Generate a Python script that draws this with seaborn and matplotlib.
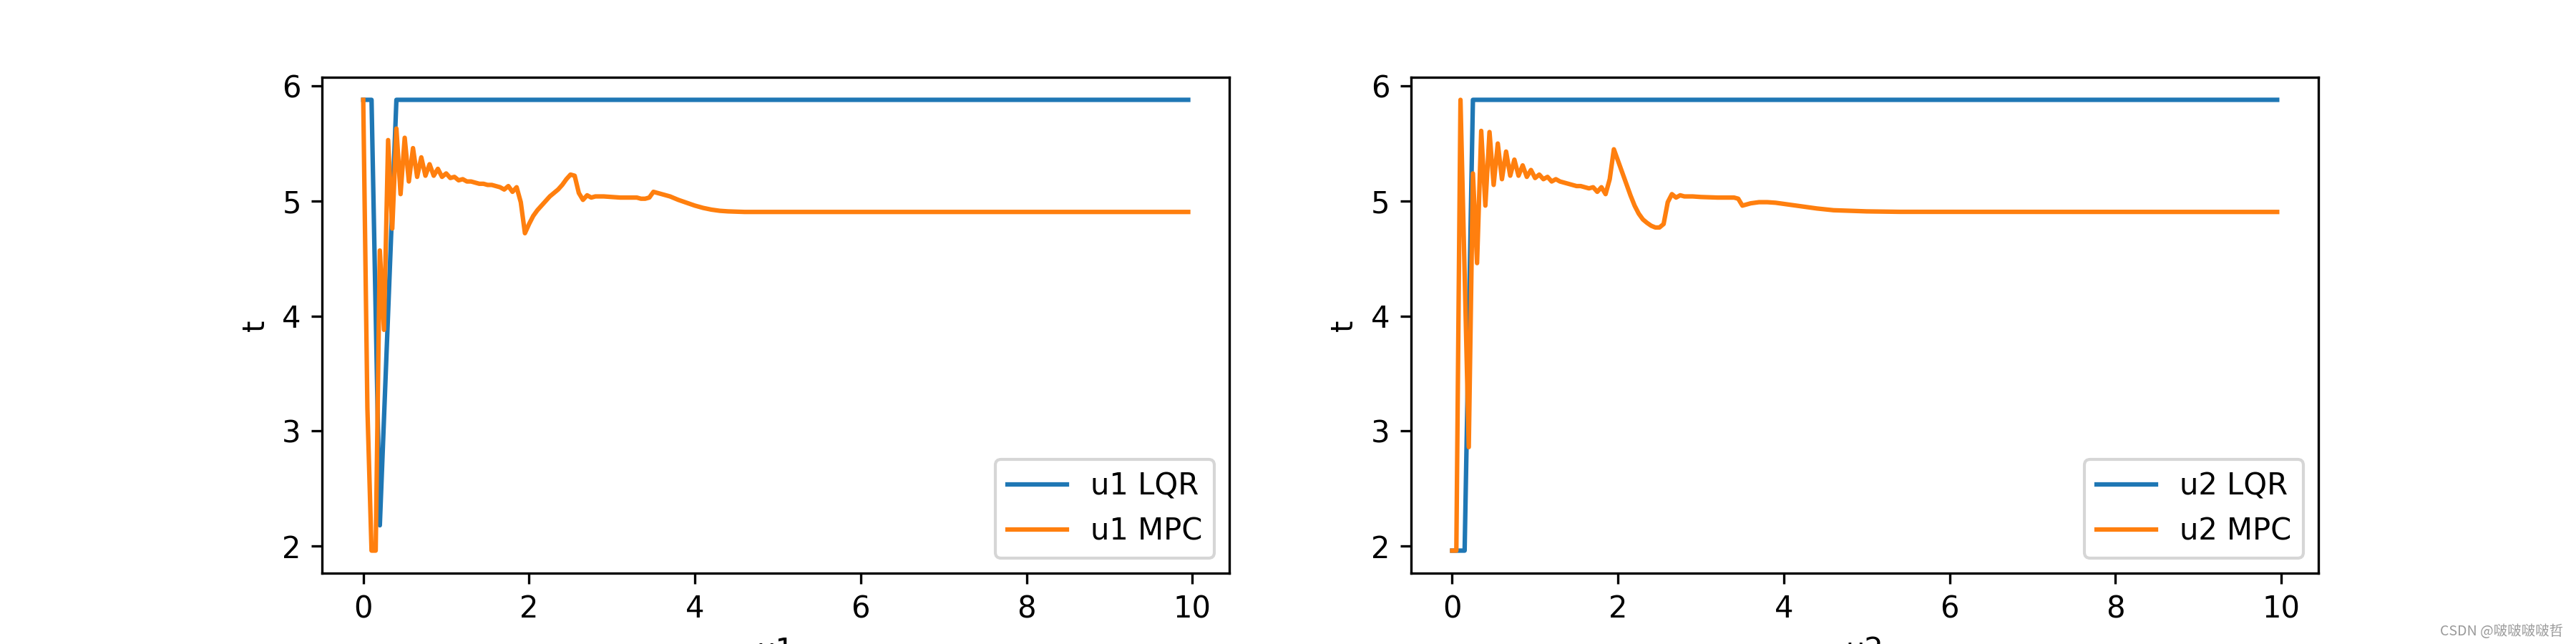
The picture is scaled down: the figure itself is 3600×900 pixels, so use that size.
import matplotlib
matplotlib.use("Agg")
import matplotlib.pyplot as plt
import seaborn as sns

# ---- data ----
u1_lqr_x = [0.0, 0.1, 0.2, 0.4, 9.95]
u1_lqr_y = [5.88, 5.88, 2.18, 5.88, 5.88]

u2_lqr_x = [0.0, 0.15, 0.25, 9.95]
u2_lqr_y = [1.96, 1.96, 5.88, 5.88]

u1_mpc_x = [0.0, 0.05, 0.1, 0.15, 0.2, 0.25, 0.3, 0.35, 0.4, 0.45, 0.5, 0.55,
            0.6, 0.65, 0.7, 0.75, 0.8, 0.85, 0.9, 0.95, 1.0, 1.05, 1.1, 1.15,
            1.2, 1.25, 1.3, 1.35, 1.4, 1.45, 1.5, 1.55, 1.6, 1.65, 1.7, 1.75,
            1.8, 1.85, 1.9, 1.95, 2.0, 2.05, 2.1, 2.15, 2.2, 2.25, 2.3, 2.35,
            2.4, 2.45, 2.5, 2.55, 2.6, 2.65, 2.7, 2.75, 2.8, 2.9, 3.0, 3.1,
            3.2, 3.3, 3.35, 3.4, 3.45, 3.5, 3.55, 3.6, 3.7, 3.8, 3.9, 4.0,
            4.1, 4.2, 4.3, 4.4, 4.6, 5.0, 9.95]
u1_mpc_y = [5.88, 3.2, 1.96, 1.96, 4.57, 3.88, 5.53, 4.76, 5.63, 5.06, 5.55, 5.17,
            5.46, 5.21, 5.38, 5.22, 5.32, 5.22, 5.28, 5.21, 5.24, 5.20, 5.21, 5.18,
            5.19, 5.17, 5.17, 5.16, 5.15, 5.15, 5.14, 5.14, 5.13, 5.12, 5.10, 5.13,
            5.08, 5.12, 4.99, 4.72, 4.80, 4.87, 4.92, 4.96, 5.00, 5.04, 5.07, 5.10,
            5.14, 5.19, 5.23, 5.22, 5.07, 5.01, 5.05, 5.03, 5.04, 5.04, 5.035, 5.03,
            5.03, 5.03, 5.02, 5.02, 5.03, 5.08, 5.07, 5.06, 5.04, 5.01, 4.985, 4.96,
            4.94, 4.925, 4.915, 4.91, 4.905, 4.905, 4.905]

u2_mpc_x = [0.0, 0.05, 0.1, 0.2, 0.25, 0.3, 0.35, 0.4, 0.45, 0.5, 0.55, 0.6,
            0.65, 0.7, 0.75, 0.8, 0.85, 0.9, 0.95, 1.0, 1.05, 1.1, 1.15, 1.2,
            1.25, 1.3, 1.35, 1.4, 1.45, 1.5, 1.55, 1.6, 1.65, 1.7, 1.75, 1.8,
            1.85, 1.9, 1.95, 2.0, 2.05, 2.1, 2.15, 2.2, 2.25, 2.3, 2.35, 2.4,
            2.45, 2.5, 2.55, 2.6, 2.65, 2.7, 2.75, 2.8, 2.9, 3.0, 3.2, 3.35,
            3.4, 3.45, 3.5, 3.6, 3.7, 3.8, 3.9, 4.0, 4.2, 4.4, 4.6, 4.8,
            5.0, 5.4, 9.95]
u2_mpc_y = [1.96, 1.96, 5.88, 2.86, 5.24, 4.46, 5.61, 4.96, 5.60, 5.14, 5.50, 5.19,
            5.43, 5.22, 5.36, 5.22, 5.31, 5.21, 5.27, 5.20, 5.23, 5.19, 5.21, 5.17,
            5.19, 5.17, 5.16, 5.15, 5.14, 5.13, 5.13, 5.12, 5.11, 5.12, 5.08, 5.12,
            5.06, 5.19, 5.45, 5.35, 5.25, 5.15, 5.05, 4.96, 4.89, 4.84, 4.81, 4.785,
            4.77, 4.77, 4.80, 4.99, 5.06, 5.03, 5.05, 5.04, 5.04, 5.035, 5.03, 5.03,
            5.03, 5.02, 4.96, 4.98, 4.99, 4.99, 4.985, 4.975, 4.955, 4.935, 4.92, 4.915,
            4.91, 4.906, 4.905]

panels = [
    ("u1", u1_lqr_x, u1_lqr_y, u1_mpc_x, u1_mpc_y),
    ("u2", u2_lqr_x, u2_lqr_y, u2_mpc_x, u2_mpc_y),
]

fig = plt.figure(figsize=(12, 3), dpi=300)
for i, (name, lx, ly, mx, my) in enumerate(panels):
    ax = fig.add_subplot(1, 2, i + 1)
    sns.lineplot(x=lx, y=ly, ax=ax, color="#1f77b4", label=f"{name} LQR",
                 sort=False, estimator=None, linewidth=1.5)
    sns.lineplot(x=mx, y=my, ax=ax, color="#ff7f0e", label=f"{name} MPC",
                 sort=False, estimator=None, linewidth=1.5)
    ax.set_xlabel(name)
    ax.set_ylabel("t")
    ax.legend(loc="lower right")

fig.text(0.995, 0.02, "CSDN @啵啵啵啵哲", ha="right", va="center",
         fontsize=4.7, color="#9a9a9a",
         family=["Noto Sans CJK SC", "DejaVu Sans"])

fig.savefig("out.png", dpi=300)
